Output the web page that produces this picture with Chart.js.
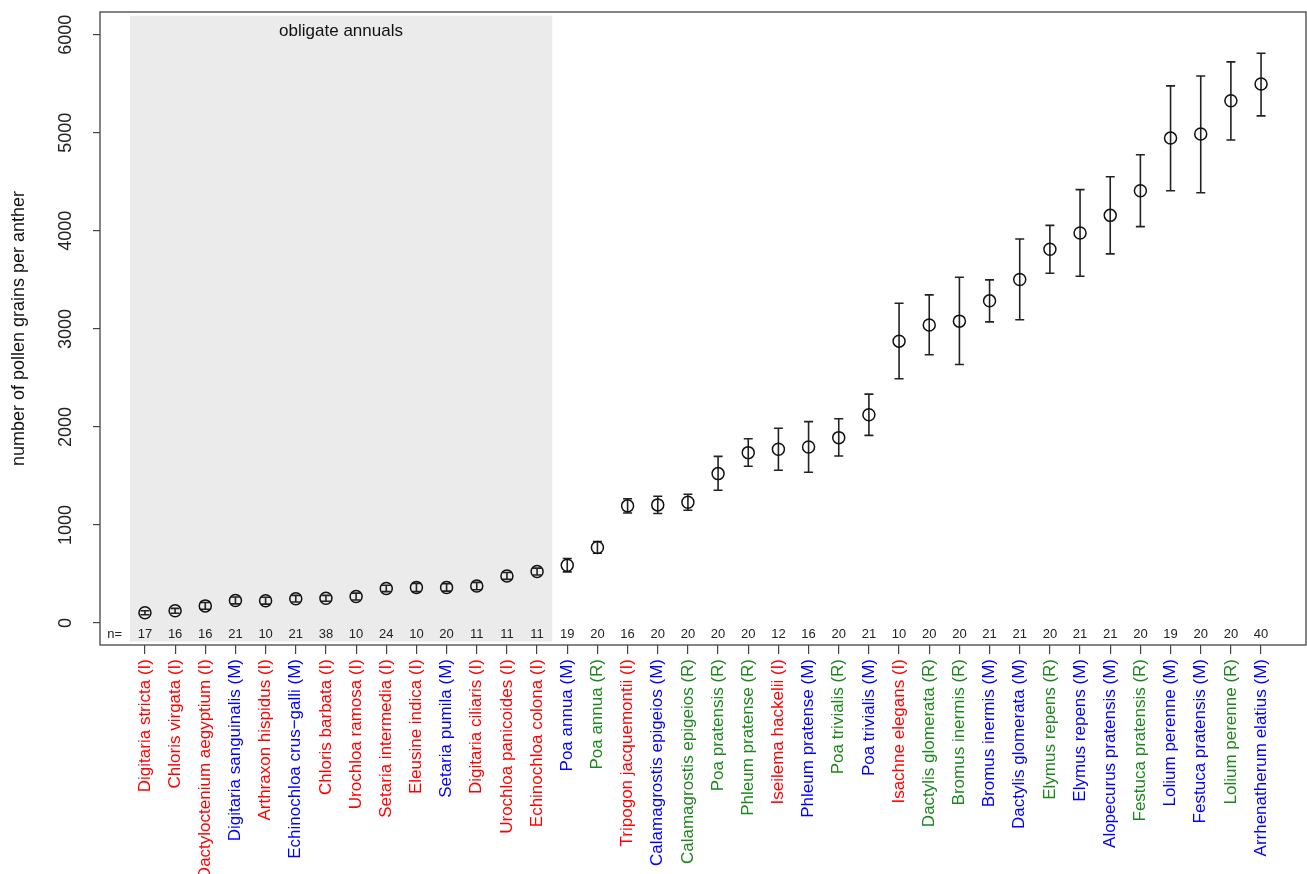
<!DOCTYPE html>
<html>
<head>
<meta charset="utf-8">
<title>Pollen grains per anther</title>
<script src="https://cdn.jsdelivr.net/npm/chart.js@4.4.1/dist/chart.umd.min.js"></script>
<style>
  html, body { margin: 0; padding: 0; background: #fff; }
  #wrap { width: 1307px; height: 874px; }
</style>
</head>
<body>
<div id="wrap"><canvas id="c" width="1307" height="874"></canvas></div>
<script>
/* species, ordered by mean pollen count; group: I / M / R */
const species = [
  "Digitaria stricta", "Chloris virgata", "Dactyloctenium aegyptium", "Digitaria sanguinalis",
  "Arthraxon hispidus", "Echinochloa crus\u2212galli", "Chloris barbata", "Urochloa ramosa",
  "Setaria intermedia", "Eleusine indica", "Setaria pumila", "Digitaria ciliaris",
  "Urochloa panicoides", "Echinochloa colona", "Poa annua", "Poa annua",
  "Tripogon jacquemontii", "Calamagrostis epigeios", "Calamagrostis epigeios", "Poa pratensis",
  "Phleum pratense", "Iseilema hackelii", "Phleum pratense", "Poa trivialis",
  "Poa trivialis", "Isachne elegans", "Dactylis glomerata", "Bromus inermis",
  "Bromus inermis", "Dactylis glomerata", "Elymus repens", "Elymus repens",
  "Alopecurus pratensis", "Festuca pratensis", "Lolium perenne", "Festuca pratensis",
  "Lolium perenne", "Arrhenatherum elatius"
];
const groups = [
  "I", "I", "I", "M", "I", "M", "I", "I", "I", "I", "M", "I", "I", "I",
  "M", "R", "I", "M", "R", "R", "R", "I", "M", "R", "M", "I", "R", "R",
  "M", "M", "R", "M", "M", "R", "M", "M", "R", "M"
];
const nObs = [17, 16, 16, 21, 10, 21, 38, 10, 24, 10, 20, 11, 11, 11,
  19, 20, 16, 20, 20, 20, 20, 12, 16, 20, 21, 10, 20, 20, 21, 21, 20, 21, 21, 20, 19, 20, 20, 40];
const means = [105, 125, 175, 230, 228, 248, 252, 270, 352, 362, 362, 378, 480, 525,
  590, 771, 1195, 1205, 1232, 1524, 1738, 1772, 1796, 1891, 2125, 2875, 3040, 3079,
  3286, 3503, 3812, 3978, 4158, 4409, 4946, 4987, 5326, 5497];
const lower = [85, 100, 140, 195, 193, 215, 222, 235, 320, 320, 325, 340, 445, 490,
  522, 711, 1122, 1117, 1151, 1354, 1599, 1558, 1538, 1704, 1914, 2492, 2736, 2637,
  3072, 3093, 3567, 3537, 3765, 4043, 4409, 4389, 4926, 5173];
const upper = [125, 150, 210, 265, 263, 282, 282, 305, 385, 405, 400, 415, 515, 560,
  658, 831, 1268, 1293, 1313, 1700, 1880, 1986, 2054, 2084, 2335, 3262, 3347, 3527,
  3500, 3917, 4056, 4420, 4552, 4776, 5479, 5580, 5723, 5812];
const yTicks = [0, 1000, 2000, 3000, 4000, 5000, 6000];
const annualSpan = [-0.5, 13.5];   // shaded block, category index units

const groupColor = { I: "#FF0000", M: "#0000FF", R: "#1C861C" };
const FONT = "'Liberation Sans', Arial, Helvetica, sans-serif";
const labels = species.map((s, i) => `${s} (${groups[i]})`);

const frame = {
  id: "frame",
  beforeDatasetsDraw(chart) {
    const { ctx, scales: { x, y } } = chart;
    ctx.save();
    ctx.fillStyle = "#EBEBEB";
    const x0 = x.getPixelForValue(annualSpan[0]), x1 = x.getPixelForValue(annualSpan[1]);
    const y0 = y.getPixelForValue(6195), y1 = y.getPixelForValue(-190);
    ctx.fillRect(x0, y0, x1 - x0, y1 - y0);
    ctx.fillStyle = "#111";
    ctx.font = `17px ${FONT}`;
    ctx.textAlign = "center"; ctx.textBaseline = "middle";
    ctx.fillText("obligate annuals", x.getPixelForValue((annualSpan[0] + annualSpan[1]) / 2), y.getPixelForValue(6040));
    // error bars
    ctx.strokeStyle = "#222"; ctx.lineWidth = 1.6;
    means.forEach((m, i) => {
      const px = x.getPixelForValue(i), pl = y.getPixelForValue(lower[i]), pu = y.getPixelForValue(upper[i]);
      ctx.beginPath();
      ctx.moveTo(px, pl); ctx.lineTo(px, pu);
      ctx.moveTo(px - 4.5, pl); ctx.lineTo(px + 4.5, pl);
      ctx.moveTo(px - 4.5, pu); ctx.lineTo(px + 4.5, pu);
      ctx.stroke();
    });
    ctx.restore();
  },
  afterDraw(chart) {
    const { ctx, chartArea: a, scales: { x, y } } = chart;
    ctx.save();
    ctx.strokeStyle = "#444"; ctx.lineWidth = 1.3;
    ctx.strokeRect(a.left, a.top, a.right - a.left, a.bottom - a.top);
    // n= row
    ctx.fillStyle = "#222";
    ctx.font = `13px ${FONT}`;
    ctx.textAlign = "center"; ctx.textBaseline = "middle";
    const ny = y.getPixelForValue(-112);
    ctx.fillText("n=", x.getPixelForValue(-1), ny);
    nObs.forEach((n, i) => ctx.fillText(String(n), x.getPixelForValue(i), ny));
    // y tick labels, parallel to axis
    ctx.font = `18px ${FONT}`;
    yTicks.forEach((t) => {
      ctx.save();
      ctx.translate(66, y.getPixelForValue(t));
      ctx.rotate(-Math.PI / 2);
      ctx.fillText(String(t), 0, 0);
      ctx.restore();
    });
    // y title
    ctx.save();
    ctx.translate(19, (a.top + a.bottom) / 2);
    ctx.rotate(-Math.PI / 2);
    ctx.fillStyle = "#111";
    ctx.fillText("number of pollen grains per anther", 0, 0);
    ctx.restore();
    ctx.restore();
  }
};

new Chart(document.getElementById("c"), {
  type: "scatter",
  data: {
    datasets: [{
      data: means.map((m, i) => ({ x: i, y: m })),
      pointRadius: 6, pointHoverRadius: 6, pointBorderWidth: 1.5,
      pointBorderColor: "#111", pointBackgroundColor: "rgba(0,0,0,0)"
    }]
  },
  options: {
    responsive: false, animation: false,
    layout: { autoPadding: false, padding: { top: 12, right: 1, left: 0, bottom: 0 } },
    plugins: { legend: { display: false }, tooltip: { enabled: false } },
    scales: {
      x: {
        type: "linear", min: -1.49, max: 38.49,
        afterBuildTicks: (s) => { s.ticks = labels.map((_, i) => ({ value: i })); },
        afterFit: (s) => { s.height = 229; s.paddingLeft = 0; s.paddingRight = 0; },
        border: { display: false },
        grid: { drawOnChartArea: false, drawTicks: true, tickLength: 9, color: "#444", lineWidth: 1.2 },
        ticks: {
          autoSkip: false, minRotation: 90, maxRotation: 90, padding: 5,
          font: { family: FONT, size: 17 },
          color: (c) => groupColor[groups[c.index]],
          callback: (v) => labels[v]
        }
      },
      y: {
        type: "linear", min: -224, max: 6232,
        afterBuildTicks: (s) => { s.ticks = yTicks.map((v) => ({ value: v })); },
        afterFit: (s) => { s.width = 100; s.paddingTop = 0; s.paddingBottom = 0; },
        border: { display: false },
        grid: { drawOnChartArea: false, drawTicks: true, tickLength: 7, color: "#444", lineWidth: 1.2 },
        ticks: { display: false }
      }
    }
  },
  plugins: [frame]
});
</script>
</body>
</html>
